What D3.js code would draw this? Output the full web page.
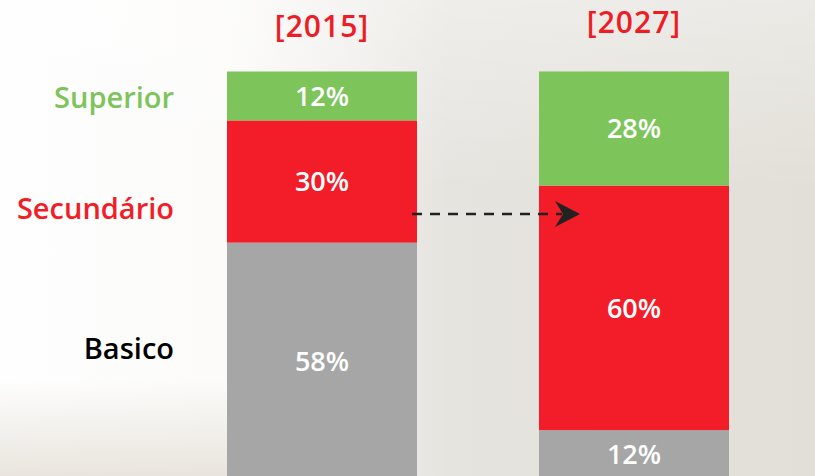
<!DOCTYPE html>
<html><head><meta charset="utf-8">
<script src="https://cdn.jsdelivr.net/npm/d3@7"></script>
<style>
html,body{margin:0;padding:0;background:#fff;overflow:hidden}
svg{display:block}
text{font-family:"Open Sans",Lato,sans-serif}
</style></head>
<body><svg id="c" width="815" height="476"></svg>
<script>
const years = ["2015", "2027"];
const categories = ["Basico", "Secundário", "Superior"];
const basico = [58, 12];
const secundario = [30, 60];
const superior = [12, 28];
const categoryColors = ["#a6a6a6", "#f21d28", "#7dc45b"];
const labelColors = ["#000000", "#f21d28", "#7dc45b"];

const W = 815, H = 476;
const svg = d3.select("#c");
const defs = svg.append("defs");

// background: faded photo impression
const lg = defs.append("linearGradient").attr("id","bg").attr("x1","0").attr("x2","1").attr("y1","0").attr("y2","0");
lg.append("stop").attr("offset","0").attr("stop-color","#fefefe");
lg.append("stop").attr("offset","0.28").attr("stop-color","#fcfbfa");
lg.append("stop").attr("offset","0.55").attr("stop-color","#e6e4df");
lg.append("stop").attr("offset","1").attr("stop-color","#e2dfd8");
svg.append("rect").attr("width",W).attr("height",H).attr("fill","url(#bg)");
const tg = defs.append("linearGradient").attr("id","topfade").attr("x1","0").attr("x2","0").attr("y1","0").attr("y2","1");
tg.append("stop").attr("offset","0").attr("stop-color","#ffffff").attr("stop-opacity",0.35);
tg.append("stop").attr("offset","0.4").attr("stop-color","#ffffff").attr("stop-opacity",0);
svg.append("rect").attr("width",W).attr("height",H).attr("fill","url(#topfade)");
const bl = defs.append("linearGradient").attr("id","hill").attr("x1","0").attr("x2","0").attr("y1","0").attr("y2","1");
bl.append("stop").attr("offset","0").attr("stop-color","#e4dfd6").attr("stop-opacity",0);
bl.append("stop").attr("offset","1").attr("stop-color","#e4dfd6").attr("stop-opacity",0.8);
svg.append("rect").attr("x",0).attr("y",380).attr("width",230).attr("height",96).attr("fill","url(#hill)");

// scales
const x = d3.scaleBand().domain(years).range([227, 729]).paddingInner(0.391).paddingOuter(0);
const y = d3.scaleLinear().domain([0, 100]).range([479, 71.5]);

const table = years.map((yr, i) => ({year: yr, Basico: basico[i], "Secundário": secundario[i], Superior: superior[i]}));
const stack = d3.stack().keys(categories)(table);

const g = svg.append("g");
stack.forEach((layer, li) => {
  g.selectAll(null).data(layer).enter().append("rect")
    .attr("x", d => x(d.data.year))
    .attr("width", x.bandwidth())
    .attr("y", d => y(d[1]))
    .attr("height", d => y(d[0]) - y(d[1]))
    .attr("fill", categoryColors[li]);
  g.selectAll(null).data(layer).enter().append("text")
    .attr("x", d => x(d.data.year) + x.bandwidth()/2)
    .attr("y", d => (y(d[0]) + y(d[1]))/2)
    .attr("dy", "0.36em")
    .attr("text-anchor", "middle")
    .attr("fill", "#ffffff")
    .attr("font-size", 27)
    .attr("font-weight", 600)
    .text(d => (d[1]-d[0]) + "%");
});

// year titles
svg.selectAll(null).data(years).enter().append("text")
  .attr("x", d => x(d) + x.bandwidth()/2)
  .attr("y", (d,i) => i === 0 ? 37 : 33)
  .attr("text-anchor", "middle")
  .attr("fill", "#ee1c25")
  .attr("font-size", 30)
  .attr("font-weight", 600)
  .attr("letter-spacing", 1)
  .text(d => "[" + d + "]");

// category labels on the left
const labelY = {"Superior": 108, "Secundário": 219, "Basico": 359};
categories.forEach((c, i) => {
  svg.append("text")
    .attr("x", 174)
    .attr("y", labelY[c])
    .attr("text-anchor", "end")
    .attr("fill", labelColors[i])
    .attr("font-size", 29)
    .attr("font-weight", 600)
    .text(c);
});

// dashed arrow
const ay = 214;
const ax0 = x("2015") + x.bandwidth() - 5;
const ax1 = x("2027") + 41;
svg.append("line").attr("x1", ax0).attr("x2", ax1 - 18).attr("y1", ay).attr("y2", ay)
  .attr("stroke", "#222").attr("stroke-width", 2.4).attr("stroke-dasharray", "10,8");
svg.append("path")
  .attr("d", `M${ax1},${ay} L${ax1-25},${ay-13} L${ax1-17},${ay} L${ax1-25},${ay+13} Z`)
  .attr("fill", "#222");
</script></body></html>
